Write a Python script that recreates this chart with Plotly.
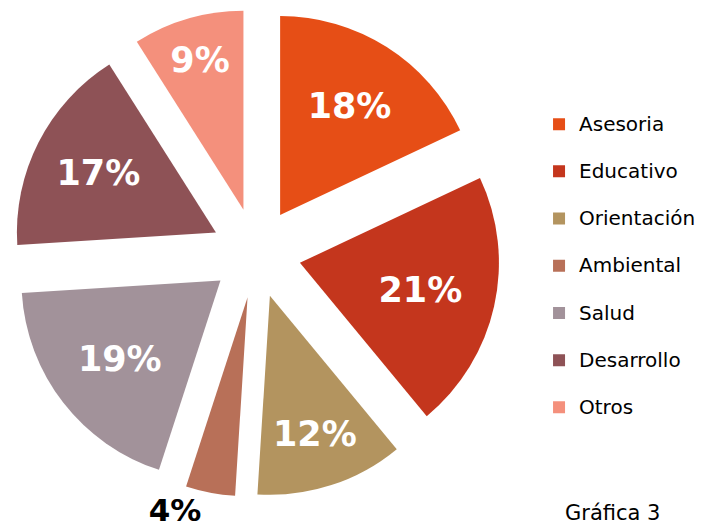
import plotly.graph_objects as go

categories = ["Asesoria", "Educativo", "Orientación", "Ambiental", "Salud", "Desarrollo", "Otros"]
values = [18, 21, 12, 4, 19, 17, 9]
colors = ["#E64E16", "#C4361D", "#B3945F", "#B87058", "#A2929A", "#8E5256", "#F4907C"]
text_positions = ["inside", "inside", "inside", "outside", "inside", "inside", "inside"]

# larger label text plus an extra blank line gives the legend its wide row spacing
legend_labels = ["<span style='font-size:20px'>" + c + "</span><br> " for c in categories]

fig = go.Figure()
fig.add_trace(go.Pie(
    labels=legend_labels,
    values=values,
    sort=False,
    direction="clockwise",
    rotation=0,
    pull=0.226,
    marker=dict(colors=colors, line=dict(width=0)),
    texttemplate="%{percent:.0%}",
    textposition=text_positions,
    insidetextorientation="horizontal",
    insidetextfont=dict(family="DejaVu Sans", size=35, color="white", weight="bold"),
    outsidetextfont=dict(family="DejaVu Sans", size=31, color="black", weight="bold"),
    domain=dict(x=[0, 1], y=[0, 1]),
    automargin=False,
    showlegend=True,
))

fig.add_annotation(
    text="Gráfica 3", xref="paper", yref="paper", x=1.13, y=-0.004,
    xanchor="left", yanchor="top", showarrow=False,
    font=dict(family="DejaVu Sans", size=21, color="black"),
)

fig.update_layout(
    width=708, height=529,
    margin=dict(l=4, r=216, t=1, b=40, autoexpand=False),
    paper_bgcolor="white", plot_bgcolor="white",
    font=dict(family="DejaVu Sans", color="black"),
    legend=dict(
        x=1.080, xanchor="left", y=0.80, yanchor="top",
        valign="top",
        font=dict(family="DejaVu Sans", size=17, color="black"),
        bgcolor="rgba(0,0,0,0)",
    ),
)

fig.write_html("out.html")
